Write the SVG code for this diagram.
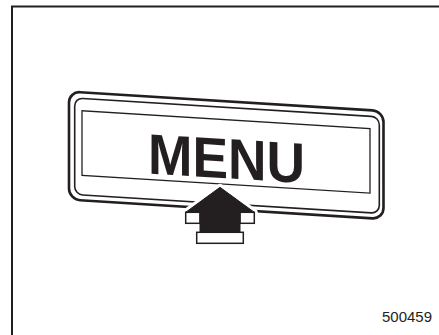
<svg xmlns="http://www.w3.org/2000/svg" width="439" height="335" viewBox="0 0 439 335">
<style>
.ln{fill:none;stroke:#231f20}
.lbl{font-family:"Liberation Sans",Arial,sans-serif;fill:#231f20}
</style>
<rect width="439" height="335" fill="#fff"/>
<path class="ln" d="M12,335 V6.5 H439" stroke-width="2"/>
<g id="menu-button" transform="translate(69,91.5) skewY(3.55)">
<rect class="ln" x="0" y="0" width="314.5" height="108" rx="11" stroke-width="2.6"/>
<rect class="ln" x="5.7" y="6.1" width="304.6" height="96.5" rx="8" stroke-width="1.6"/>
<rect class="ln" x="13" y="18.5" width="288" height="64.5" stroke-width="1.3"/>
<text class="lbl" x="79" y="77" font-size="57" font-weight="bold" textLength="157" lengthAdjust="spacingAndGlyphs">MENU</text>
</g>
<g id="arrow">
<polygon points="220,187.3 185.7,212.3 185.7,223.3 196.7,223.3 196.7,243.3 243.3,243.3 243.3,223.3 254.3,223.3 254.3,212.3" fill="#fff" stroke="#fff" stroke-width="7" stroke-linejoin="round"/>
<rect x="185.7" y="212.3" width="14.3" height="11" fill="#fff" stroke="#231f20" stroke-width="1.5"/>
<rect x="240" y="212.3" width="14.3" height="11" fill="#fff" stroke="#231f20" stroke-width="1.5"/>
<rect x="196.7" y="232.3" width="46.6" height="11" fill="#fff" stroke="#231f20" stroke-width="1.5"/>
<polygon points="220,187.3 254.3,212.3 240,212.3 240,232.3 200,232.3 200,212.3 185.7,212.3" fill="#231f20" stroke="#231f20" stroke-width="1" stroke-linejoin="miter"/>
</g>
<text class="lbl" x="432" y="322" font-size="14.5" text-anchor="end" textLength="50" lengthAdjust="spacingAndGlyphs">500459</text>
</svg>
